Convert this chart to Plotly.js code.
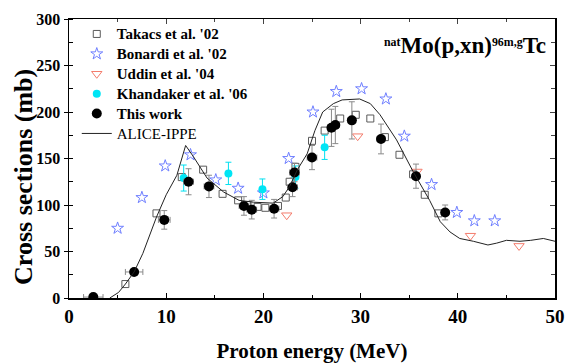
<!DOCTYPE html>
<html>
<head>
<meta charset="utf-8">
<script src="https://cdn.plot.ly/plotly-3.0.1.min.js"></script>
<style>html,body{margin:0;padding:0;background:#fff;}#chart{width:575px;height:363px;}</style>
</head>
<body>
<div id="chart"></div>
<script>
// Takacs et al. '02
var takacsX = [5.8, 9.0, 11.6, 13.8, 15.8, 17.4, 18.3, 19.4, 20.2, 21.5, 22.3, 22.7, 23.3, 25.0, 26.3, 27.9, 29.5, 31.0, 32.5, 34.0, 35.4, 36.6, 38.0];
var takacsY = [15, 91, 130, 138, 112, 105, 100, 98, 97, 99, 108, 125, 141, 169, 180, 193, 197, 193, 173, 154, 133, 111, 91];
// Bonardi et al. '02
var bonardiX = [5.0, 7.5, 9.9, 12.5, 15.1, 17.4, 20.0, 22.6, 25.1, 27.5, 30.1, 32.6, 34.5, 37.3, 39.9, 41.7, 43.8];
var bonardiY = [75, 108, 142, 154, 127, 118, 113, 150, 200, 222, 225, 214, 174, 122, 92, 83, 83];
// Uddin et al. '04
var uddinX = [22.4, 29.7, 35.8, 41.3, 46.3];
var uddinY = [89, 174, 136, 67, 56];
// Khandaker et al. '06
var khandX = [11.8, 16.4, 19.9, 23.3, 26.3];
var khandY = [129, 134, 117, 130, 162];
var khandYerr = [14, 12, 11, 12, 13];
// This work
var thisX = [2.5, 6.7, 9.8, 12.3, 14.4, 18.0, 18.8, 21.1, 23.0, 23.2, 25.0, 27.0, 27.4, 29.1, 32.1, 35.7, 38.7];
var thisY = [1, 28, 84, 125, 120, 99, 95, 96, 119, 135, 151, 183, 186, 191, 171, 131, 92];
var thisYerr = [0, 3, 10, 14, 12, 10, 10, 10, 10, 10, 13, 20, 20, 20, 16, 13, 8];
var thisXerr = [1.0, 0.9, 0.6, 0.5, 0.5, 0.5, 0.5, 0.5, 0.5, 0.5, 0.5, 0.4, 0.4, 0.4, 0.4, 0.3, 0.3];
// ALICE-IPPE
var aliceX = [4.2, 4.7, 5.1, 5.8, 6.7, 7.6, 9.0, 10.0, 11.1, 12.0, 12.8, 14.2, 15.9, 17.5, 19.0, 21.0, 22.0, 22.7, 23.5, 24.5, 25.3, 26.1, 27.2, 28.1, 29.9, 31.0, 32.0, 33.7, 35.4, 37.1, 38.2, 39.2, 40.2, 41.6, 43.1, 44.0, 45.0, 46.4, 47.5, 48.8, 50.0];
var aliceY = [0, 3, 6, 15, 28, 48, 87, 111, 132, 164, 152, 129, 114, 105, 103, 102, 109, 120, 138, 155, 180, 200, 209, 213, 214, 209, 197, 170, 136, 105, 82, 71, 64, 61, 57, 59, 62, 61, 62, 64, 61];

var serif = 'Liberation Serif';
function lg(t, bold) {
  return '<span style="font-size:15px">' + (bold ? '<b>' + t + '</b>' : t) + '</span>';
}

var traces = [
  {x: takacsX, y: takacsY, mode: 'markers', type: 'scatter', name: lg("Takacs et al. '02", true),
   marker: {symbol: 'square-open', size: 7, color: '#5a5a5a', line: {width: 1}}},
  {x: bonardiX, y: bonardiY, mode: 'markers', type: 'scatter', name: lg("Bonardi et al. '02", true),
   marker: {symbol: 'star-open', size: 9, color: '#6f7fff', line: {width: 1}}},
  {x: uddinX, y: uddinY, mode: 'markers', type: 'scatter', name: lg("Uddin et al. '04", true),
   marker: {symbol: 'triangle-down-open', size: 9, color: '#f47c6c', line: {width: 1}}},
  {x: khandX, y: khandY, mode: 'markers', type: 'scatter', name: lg("Khandaker et al. '06", true),
   error_y: {type: 'data', array: khandYerr, visible: true, color: '#00e0f0', thickness: 1, width: 3},
   marker: {symbol: 'circle', size: 8, color: '#00e5f5'}},
  {x: thisX, y: thisY, mode: 'markers', type: 'scatter', name: lg('This work', true),
   error_y: {type: 'data', array: thisYerr, visible: true, color: '#8a8a8a', thickness: 1, width: 3},
   error_x: {type: 'data', array: thisXerr, visible: true, color: '#8a8a8a', thickness: 1, width: 3},
   marker: {symbol: 'circle', size: 10, color: '#000000'}},
  {x: aliceX, y: aliceY, mode: 'lines', type: 'scatter', name: lg('ALICE-IPPE', false),
   line: {color: '#222222', width: 1}},
  {x: [0], y: [-10], xaxis: 'x2', yaxis: 'y2', showlegend: false, type: 'scatter', mode: 'markers',
   marker: {size: 1, color: 'rgba(0,0,0,0)'}, hoverinfo: 'skip'}
];

var layout = {
  width: 575, height: 363,
  margin: {l: 69, r: 20, t: 19, b: 65, pad: 0},
  paper_bgcolor: '#ffffff', plot_bgcolor: '#ffffff',
  font: {family: serif, color: '#000000'},
  showlegend: true,
  legend: {x: 0.016, y: 1.0, xanchor: 'left', yanchor: 'top', bgcolor: 'rgba(0,0,0,0)',
           font: {family: serif, size: 13, color: '#000'}, tracegroupgap: 0},
  xaxis: {range: [0, 50], showgrid: false, zeroline: false, showline: true, linecolor: '#000', linewidth: 1.5,
          mirror: true, ticks: 'inside', ticklen: 5, tickwidth: 1, tickcolor: '#000', dtick: 10, tick0: 0,
          minor: {ticks: 'inside', ticklen: 3, dtick: 5, tickcolor: '#000', tickwidth: 1},
          ticklabelstandoff: 1,
          tickfont: {family: serif, size: 19, color: '#000', weight: 'bold'},
          title: {text: '<b>Proton energy (MeV)</b>', font: {family: serif, size: 21, color: '#000'}, standoff: 20}},
  yaxis: {range: [0, 300], showgrid: false, zeroline: false, showline: true, linecolor: '#000', linewidth: 1.5,
          mirror: true, ticks: 'outside', ticklen: 4, tickwidth: 1, tickcolor: '#000', dtick: 50, tick0: 0,
          minor: {ticks: 'inside', ticklen: 4, dtick: 25, tickcolor: '#000', tickwidth: 1},
          tickfont: {family: serif, size: 16, color: '#000', weight: 'bold'}},
  xaxis2: {range: [0, 50], overlaying: 'x', side: 'top', anchor: 'y2', showgrid: false, zeroline: false,
           showline: false, ticks: 'inside', ticklen: 5, dtick: 10, tick0: 0, showticklabels: false,
           minor: {ticks: 'inside', ticklen: 3, dtick: 5}},
  yaxis2: {range: [0, 300], overlaying: 'y', side: 'right', anchor: 'x2', showgrid: false, zeroline: false,
           showline: false, ticks: 'inside', ticklen: 5, dtick: 50, tick0: 0, showticklabels: false,
           minor: {ticks: 'inside', ticklen: 4, dtick: 25}},
  annotations: [
    {xref: 'paper', yref: 'paper', x: 0.985, y: 0.905, xanchor: 'right', yanchor: 'middle', showarrow: false,
     text: '<b><span style="font-size:17px"><sup>nat</sup></span>Mo(p,xn)<span style="font-size:17px"><sup>96m,g</sup></span>Tc</b>',
     font: {family: serif, size: 23, color: '#000'}},
    {xref: 'paper', yref: 'paper', x: -0.095, y: 0.039, xanchor: 'center', yanchor: 'bottom', showarrow: false,
     textangle: -90, text: '<b>Cross sections (mb)</b>', font: {family: serif, size: 26, color: '#000'}}
  ]
};

Plotly.newPlot('chart', traces, layout, {displayModeBar: false, staticPlot: true});
</script>
</body>
</html>
